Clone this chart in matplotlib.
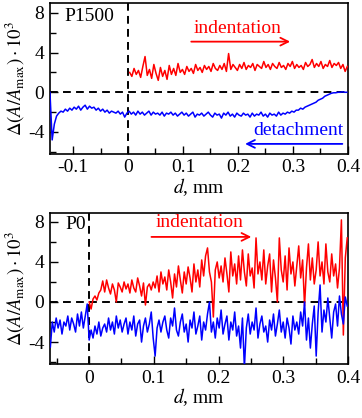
import matplotlib
matplotlib.use("Agg")
import matplotlib.pyplot as plt
import numpy as np
from matplotlib.ticker import MultipleLocator

plt.rcParams['font.family'] = 'serif'
plt.rcParams['font.serif'] = ['Liberation Serif', 'DejaVu Serif']
plt.rcParams['mathtext.fontset'] = 'stix'
plt.rcParams['axes.unicode_minus'] = False
plt.rcParams['font.size'] = 13

# ---- data: top panel (P1500) ----
top_red_x = np.arange(0.003, 0.4, 0.004)
top_red_y = [2.0, 1.6, 2.4, 1.8, 2.2, 1.5, 2.6, 3.6, 1.7, 2.3,
             1.4, 2.8, 1.9, 1.2, 2.5, 1.6, 2.2, 1.3, 2.7, 1.8,
             2.4, 1.7, 2.9, 2.0, 2.3, 1.8, 2.6, 2.1, 2.4, 1.9,
             2.8, 2.2, 2.5, 2.0, 2.7, 2.3, 2.6, 2.1, 2.9, 2.4,
             2.2, 2.7, 2.3, 2.9, 2.1, 3.9, 2.3, 2.8, 2.5, 2.2,
             2.8, 2.4, 3.0, 2.3, 2.7, 2.5, 2.9, 2.2, 2.8, 2.6,
             2.4, 3.1, 2.5, 2.8, 2.3, 2.9, 2.6, 2.4, 3.0, 2.5,
             2.7, 2.3, 2.9, 2.6, 3.1, 2.4, 2.8, 2.5, 2.7, 2.3,
             3.0, 2.6, 2.8, 3.3, 2.5, 2.9, 2.6, 3.1, 2.4, 2.8,
             2.6, 3.2, 2.5, 2.9, 2.7, 3.0, 2.4, 2.8, 2.1, 2.6]

top_blue_x = np.arange(-0.142, 0.399, 0.004)
top_blue_y = [0.0, -4.8, -3.2, -2.4, -2.1, -1.9, -2.0, -1.7, -1.9, -1.6,
              -1.8, -1.5, -1.7, -1.4, -1.8, -1.5, -1.3, -1.7, -1.4, -1.6,
              -1.5, -1.8, -1.6, -1.9, -1.7, -2.0, -1.8, -2.1, -1.9, -2.0,
              -2.1, -1.9, -2.2, -2.0, -2.5, -2.1, -1.9, -2.2, -2.0, -2.3,
              -1.9, -2.2, -2.0, -2.3, -2.1, -1.9, -2.3, -2.0, -2.2, -2.1,
              -2.3, -2.0, -2.4, -2.1, -2.2, -2.0, -2.3, -2.1, -2.4, -2.2,
              -2.0, -2.3, -2.1, -2.4, -2.2, -2.0, -2.5, -2.2, -2.3, -2.1,
              -2.4, -2.2, -2.0, -2.3, -2.5, -2.1, -2.3, -2.2, -2.6, -2.1,
              -2.3, -2.0, -2.4, -2.2, -2.5, -2.1, -2.3, -2.4, -2.1, -2.3,
              -2.2, -2.5, -2.1, -2.4, -2.2, -2.3, -2.0, -2.4, -2.2, -2.5,
              -2.1, -2.3, -2.2, -2.4, -2.0, -2.3, -2.1, -2.2, -2.0, -2.1,
              -1.9, -2.0, -1.8, -1.8, -1.6, -1.7, -1.5, -1.4, -1.3, -1.2,
              -1.1, -1.0, -0.8, -0.7, -0.6, -0.4, -0.3, -0.2, -0.1, -0.05,
              -0.05, 0.0, 0.0, 0.05, 0.0, 0.0]

# ---- data: bottom panel (P0) ----
bot_red_x = np.arange(0.0, 0.4, 0.003)
bot_red_y = [0.0, -0.7, 0.3, 0.6, 0.2, 0.9, 1.2, 2.1, 1.0, 2.2,
             1.4, 0.8, 1.8, 1.2, 0.0, 1.9, 1.5, 1.0, 2.0, 1.3,
             1.8, 0.9, 2.2, 1.4, 1.0, 2.4, 1.6, 0.6, 1.9, -0.3,
             1.5, 1.8, 1.2, 2.0, 1.4, 2.6, 1.0, 3.0, 1.8, 2.5,
             1.2, 3.2, 2.0, 0.4, 2.8, 1.5, 3.6, 2.2, 0.9, 3.0,
             1.8, 3.5, 2.4, 1.0, 3.8, 2.0, 3.2, 1.5, 4.2, 2.6,
             4.6, 5.4, 3.0, 2.0, -1.5, 3.2, 4.0, 2.4, 3.6, 2.0,
             4.4, 2.8, 1.0, 5.0, 2.6, 3.8, 1.8, 4.6, 2.2, 5.2,
             3.0, 1.6, 4.8, 2.6, 3.4, 1.4, 6.4, 2.8, 4.0, 2.2,
             5.2, 1.8, 3.6, 4.8, 1.0, 4.2, 2.4, 0.0, 6.4, 3.2,
             2.0, 4.6, 1.2, 5.4, 2.8, 4.0, 1.6, 3.6, 5.6, 2.4,
             4.2, -0.4, 3.4, 5.8, 2.2, 4.4, 1.8, 3.2, 6.0, 2.6,
             4.0, 1.8, 5.8, 3.0, 2.0, 4.8, 2.6, 3.8, 1.4, 3.4,
             8.2, -3.3, 4.4, 6.4]

bot_blue_x = np.arange(-0.06, 0.4, 0.003)
bot_blue_y = [-4.5, -2.0, -3.0, -1.6, -2.6, -1.8, -3.2, -2.0, -2.4, -1.4,
              -2.8, -1.6, -2.2, -3.0, -1.2, -2.4, -1.0, -2.6, -1.4, -0.2,
              -3.8, -2.8, -3.6, -2.4, -3.2, -2.0, -3.4, -2.6, -2.2, -3.0,
              -1.6, -2.8, -2.0, -3.2, -1.4, -2.6, -1.8, -3.0, -2.2, -1.6,
              -3.2, -2.0, -2.8, -1.4, -3.4, -2.2, -1.8, -4.0, -2.4, -1.6,
              -3.0, -2.2, -1.0, -3.6, -5.4, -2.6, -1.8, -3.0, -2.0, -1.4,
              -2.8, -3.6, -1.6, -2.4, -0.6, -2.8, -3.4, -2.0, -1.2, -3.0,
              -2.2, -4.0, -1.8, -2.6, -1.0, -3.2, -2.4, -1.4, -3.8, -2.0,
              -2.8, -1.2, 0.0, -3.0, -2.0, -3.6, -1.6, -2.6, -0.8, -3.2,
              -2.2, -1.4, -3.8, -2.0, -2.8, -1.0, -3.4, -2.4, -4.6, -1.6,
              -6.6, -2.6, -1.2, -3.2, -2.0, -2.8, -0.6, -3.6, -2.2, -1.4,
              -3.0, -2.4, -4.0, -1.8, -2.8, -1.2, -3.4, -2.2, -0.8, -3.0,
              -2.0, -3.6, -1.6, -2.6, -4.2, -1.4, -2.8, -2.0, -3.2, -1.0,
              -2.4, 0.0, -3.8, -1.6, -4.6, -2.2, -0.4, -5.4, -1.0, 1.7,
              -3.0, -0.8, -2.0, 0.4, -1.6, -3.6, -1.0, -0.2, -2.4, 0.6,
              -1.2, -2.2, 0.5, -0.4]

red = '#ff0000'
blue = '#0000ff'
ylab = r'$\Delta(A/A_{\mathrm{max}})\cdot10^3$'
serif = 'Liberation Serif'

fig = plt.figure(figsize=(3.62, 4.18), dpi=100)
ax1 = fig.add_axes([0.138, 0.632, 0.823, 0.361])
ax2 = fig.add_axes([0.138, 0.129, 0.823, 0.361])


def style(ax, xlim, ylim):
    ax.set_xlim(*xlim)
    ax.set_ylim(*ylim)
    ax.axhline(0, color='black', ls=(0, (4, 2.7)), lw=1.4, zorder=1)
    ax.axvline(0, color='black', ls=(0, (4, 2.7)), lw=1.4, zorder=1)
    ax.xaxis.set_major_locator(MultipleLocator(0.1))
    ax.xaxis.set_minor_locator(MultipleLocator(0.05))
    ax.yaxis.set_major_locator(MultipleLocator(4))
    ax.yaxis.set_minor_locator(MultipleLocator(2))
    ax.tick_params(which='both', direction='in', top=False, right=False,
                   width=1.0, labelsize=14, pad=4)
    ax.tick_params(which='major', length=6)
    ax.tick_params(which='minor', length=4)
    ax.xaxis.set_major_formatter(plt.FuncFormatter(lambda v, p: '%g' % round(v, 2)))
    for lab in ax.get_xticklabels() + ax.get_yticklabels():
        lab.set_family(serif)
    for s in ax.spines.values():
        s.set_linewidth(1.2)
    ax.set_xlabel(r'$d$, mm', fontsize=14, labelpad=0)
    ax.set_ylabel(ylab, fontsize=13.5, labelpad=1)


# top panel
ax1.plot(top_red_x, top_red_y, color=red, lw=1.1, zorder=3)
ax1.plot(top_blue_x, top_blue_y, color=blue, lw=1.1, zorder=3)
style(ax1, (-0.142, 0.4), (-6.2, 9))
ax1.text(-0.116, 7.6, 'P1500', fontsize=14, va='center', ha='left', family=serif)
ax1.text(0.2, 6.4, 'indentation', color=red, fontsize=14, ha='center',
         va='center', family=serif)
ax1.annotate('', xy=(0.3, 5.1), xytext=(0.11, 5.1),
             arrowprops=dict(arrowstyle='->', color=red, lw=1.3,
                             mutation_scale=14))
ax1.text(0.31, -3.9, 'detachment', color=blue, fontsize=14, ha='center',
         va='center', family=serif)
ax1.annotate('', xy=(0.208, -5.2), xytext=(0.395, -5.2),
             arrowprops=dict(arrowstyle='->', color=blue, lw=1.3,
                             mutation_scale=14))

# bottom panel
ax2.plot(bot_red_x, bot_red_y, color=red, lw=1.1, zorder=3)
ax2.plot(bot_blue_x, bot_blue_y, color=blue, lw=1.1, zorder=3)
style(ax2, (-0.0606, 0.4), (-6.2, 8.87))
ax2.text(-0.036, 7.7, 'P0', fontsize=14, va='center', ha='left', family=serif)
ax2.text(0.17, 7.9, 'indentation', color=red, fontsize=14, ha='center',
         va='center', family=serif)
ax2.annotate('', xy=(0.255, 6.5), xytext=(0.092, 6.5),
             arrowprops=dict(arrowstyle='->', color=red, lw=1.3,
                             mutation_scale=14))

fig.savefig('out.png', dpi=100)
